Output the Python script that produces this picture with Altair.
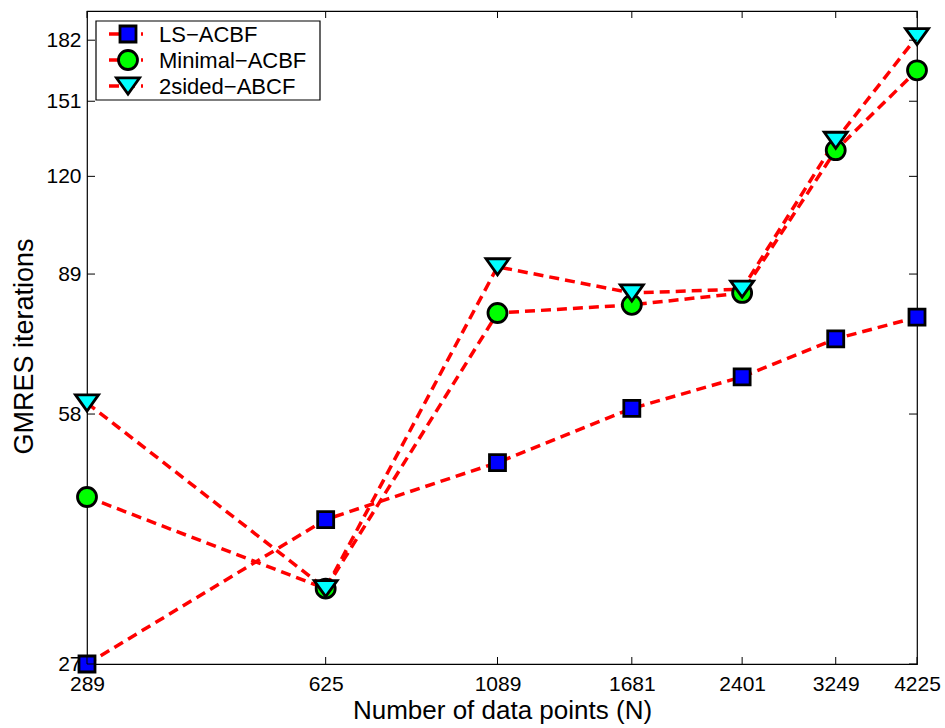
import altair as alt
import pandas as pd

# ---------------- data ----------------
N = [289, 625, 1089, 1681, 2401, 3249, 4225]
series_names = ["LS\u2212ACBF", "Minimal\u2212ACBF", "2sided\u2212ABCF"]
ls_acbf = [27, 42, 50, 59, 65, 73, 78]
minimal_acbf = [45, 34, 79, 81, 84, 130, 166]
twosided_abcf = [60, 34, 91, 84, 85, 134, 184]
x_ticks = [289, 625, 1089, 1681, 2401, 3249, 4225]
y_ticks = [27, 58, 89, 120, 151, 182]
x_domain = [289, 4225]
y_domain = [27, 199]

# ---------------- style ----------------
W, H = 830, 653
FONT = "Liberation Sans"
RED = "#FF0000"
fills = ["#0000FF", "#00FF00", "#00FFFF"]
shapes = ["square", "circle", "M-1,-0.7L1,-0.7L0,0.7Z"]
sizes = [256, 361, 529]
DASH = [10, 6]
LW = 3.5
MSW = 2.8

x_scale = alt.Scale(type="log", domain=x_domain, nice=False, zero=False)
y_scale = alt.Scale(type="log", domain=y_domain, nice=False, zero=False)

x_axis = alt.Axis(
    values=x_ticks, title="Number of data points (N)", ticks=False, tickSize=0,
    domain=False, grid=False, labelFont=FONT, labelFontSize=21, labelColor="black",
    labelBaseline="alphabetic", labelPadding=26, labelFlush=False, labelOverlap=False,
    labelExpr="format(datum.value, 'd')",
    titleFont=FONT, titleFontSize=26, titleFontWeight="normal", titleColor="black",
    titleX=W / 2, titleY=54, titleBaseline="alphabetic", titleAlign="center",
)
y_axis = alt.Axis(
    values=y_ticks, title="GMRES iterations", ticks=False, tickSize=0,
    domain=False, grid=False, labelFont=FONT, labelFontSize=21, labelColor="black",
    labelPadding=6, labelFlush=False, labelOverlap=False,
    labelExpr="format(datum.value, 'd')",
    titleFont=FONT, titleFontSize=27, titleFontWeight="normal", titleColor="black",
    titleAngle=-90, titleX=-55, titleY=335, titleBaseline="alphabetic", titleAlign="center",
)

x_enc = alt.X("N:Q", scale=x_scale, axis=x_axis)
y_enc = alt.Y("iters:Q", scale=y_scale, axis=y_axis)

layers = []
series_vals = [ls_acbf, minimal_acbf, twosided_abcf]

# dashed lines first, then markers
for name, vals in zip(series_names, series_vals):
    df = pd.DataFrame({"N": N, "iters": vals, "series": name})
    layers.append(
        alt.Chart(df).mark_line(color=RED, strokeWidth=LW, strokeDash=DASH)
        .encode(x=x_enc, y=y_enc)
    )
for name, vals, fill, shape, size in zip(series_names, series_vals, fills, shapes, sizes):
    df = pd.DataFrame({"N": N, "iters": vals, "series": name})
    layers.append(
        alt.Chart(df).mark_point(filled=True, fill=fill, stroke="black", strokeWidth=MSW,
                                 shape=shape, size=size, opacity=1)
        .encode(x=x_enc, y=y_enc)
    )

# inward ticks (MATLAB style box)
xt = pd.DataFrame({"N": x_ticks})
yt = pd.DataFrame({"iters": y_ticks})
layers.append(alt.Chart(xt).mark_rule(color="black", strokeWidth=1)
              .encode(x=x_enc, y=alt.value(H), y2=alt.value(H - 7)))
layers.append(alt.Chart(xt).mark_rule(color="black", strokeWidth=1)
              .encode(x=x_enc, y=alt.value(0), y2=alt.value(7)))
layers.append(alt.Chart(yt).mark_rule(color="black", strokeWidth=1)
              .encode(y=y_enc, x=alt.value(0), x2=alt.value(8)))
layers.append(alt.Chart(yt).mark_rule(color="black", strokeWidth=1)
              .encode(y=y_enc, x=alt.value(W), x2=alt.value(W - 8)))

# legend box
layers.append(
    alt.Chart(pd.DataFrame({"a": [0]})).mark_rect(fill="white", stroke="black", strokeWidth=1.2)
    .encode(x=alt.value(9), x2=alt.value(233), y=alt.value(10), y2=alt.value(89))
)
for i, (name, fill, shape, size) in enumerate(zip(series_names, fills, shapes, sizes)):
    cy = 23 + 26 * i
    ldf = pd.DataFrame({"label": [name]})
    layers.append(alt.Chart(ldf).mark_rule(color=RED, strokeWidth=LW, strokeDash=DASH)
                  .encode(x=alt.value(22), x2=alt.value(56), y=alt.value(cy)))
    layers.append(alt.Chart(ldf).mark_point(filled=True, fill=fill, stroke="black", strokeWidth=MSW,
                                            shape=shape, size=size, opacity=1)
                  .encode(x=alt.value(41), y=alt.value(cy)))
    layers.append(alt.Chart(ldf).mark_text(align="left", baseline="alphabetic", font=FONT,
                                           fontSize=22, color="black")
                  .encode(x=alt.value(72), y=alt.value(cy + 8), text="label:N"))

chart = (
    alt.layer(*layers)
    .properties(
        width=W, height=H,
        padding={"left": 87, "top": 11, "right": 28, "bottom": 64},
        autosize=alt.AutoSizeParams(type="none"),
        background="white",
    )
    .configure_view(stroke="black", strokeWidth=1.2)
)

chart.save("out.html", embed_options={"renderer": "svg", "actions": False})
